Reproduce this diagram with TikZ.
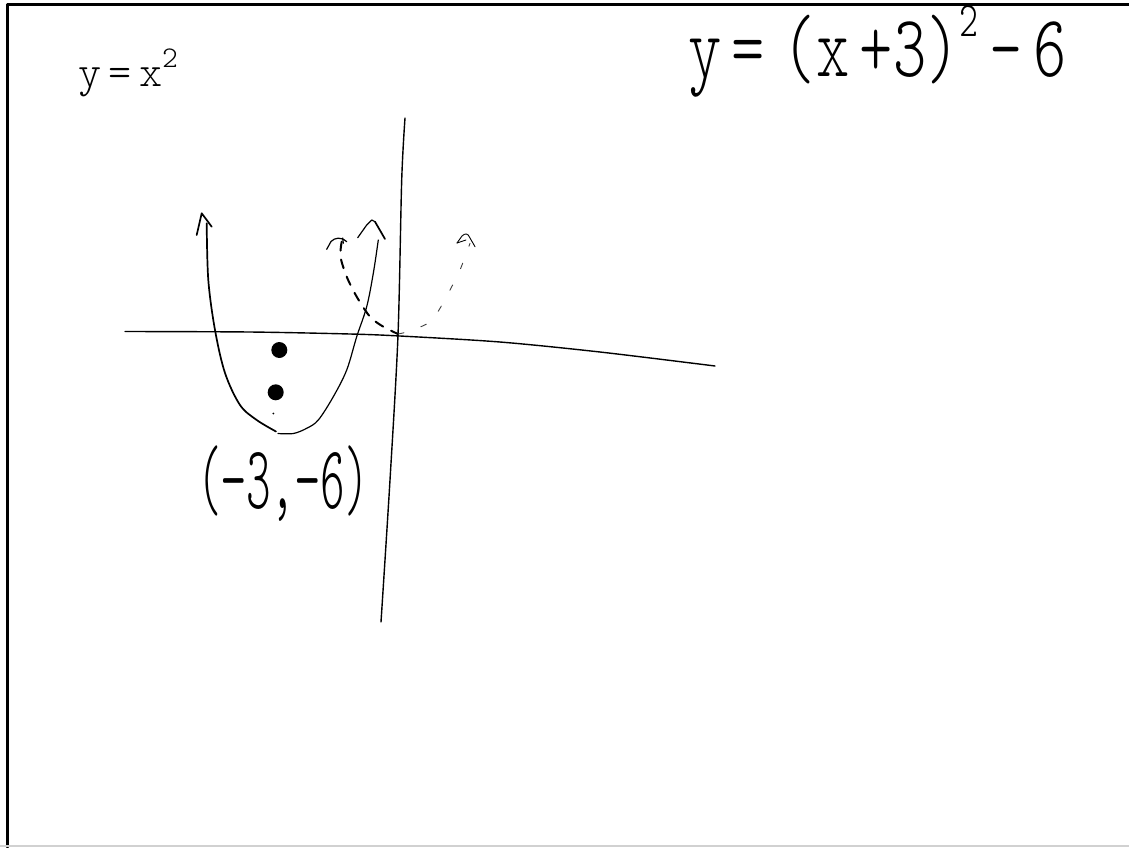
\documentclass[tikz,border=0pt]{standalone}
\usepackage{fontspec}
\newfontfamily\hand{lmmonolt10-regular.otf}
\begin{document}
\begin{tikzpicture}[x=1pt,y=-1pt,line cap=round,line join=round,
  pen/.style={line width=1.7pt,black},
  thinpen/.style={line width=1.2pt,black},
  axis/.style={line width=1.4pt,black},
  dashpen/.style={line width=2pt,black,dash pattern=on 9pt off 9pt},
  dotpen/.style={line width=0.9pt,black!75,dash pattern=on 6pt off 18pt},
  txt/.style={inner sep=0pt,font=\hand,anchor=base west}]
\useasboundingbox (0,0) rectangle (1129,847);
\fill[white] (0,0) rectangle (1129,847);
% frame
\draw[line width=3pt] (7,847) -- (7,4) -- (1129,4);
\draw[black!18,line width=1.5pt] (0,846) -- (1129,846);
% axes
\coordinate (xl) at (125,331.5);
\coordinate (xr) at (715,366);
\coordinate (yt) at (405,118);
\coordinate (yb) at (381,622);
\draw[axis] plot[smooth,tension=0.5] coordinates {(xl) (250,332) (350,334) (400,336) (500,342) (600,352) (xr)};
\draw[axis] plot[smooth,tension=0.5] coordinates {(yt) (401.7,180) (398,335) (390,480) (yb)};
% main parabola
\coordinate (lt) at (206.7,223.3);
\coordinate (rt) at (378.3,240);
\draw[pen] plot[smooth,tension=0.55] coordinates {(lt) (208.3,280) (215,330) (225,373) (240,405) (256.7,420) (276,431.5)};
\draw[thinpen] plot[smooth,tension=0.55] coordinates {(278,433.5) (293.3,433.5) (306.7,428.3) (318.3,420) (333.3,396.7) (346.7,370) (356.7,336.7) (366.7,306.7) (373.3,273.3) (rt)};
% arrowheads main
\draw[pen] (196.7,235) -- (201.7,213.3) -- (211.7,226.7);
\draw[thinpen] (357.7,237.7) -- (366.7,225) -- (371.7,220) -- (375,221.7);
\draw[pen] (375,221.7) -- (385,239);
% shifted parabola
\coordinate (dl) at (341.7,241.7);
\coordinate (dv) at (398,334);
\coordinate (dr) at (470,243.3);
\draw[dashpen] plot[smooth,tension=0.5] coordinates {(dl) (340.5,256.7) (346.7,276.7) (356.7,296.7) (370,316.7) (383.3,326.7) (dv)};
\draw[dotpen] plot[smooth,tension=0.5] coordinates {(dv) (410,331) (430,322) (440,308.3) (450,290) (460,270) (dr)};
\draw[thinpen] (326.7,249.3) -- (331,241.5) .. controls (335,237.5) and (341,236.5) .. (346.7,241.7);
\draw[thinpen] (342.7,238) -- (343.3,243.3);
\draw[line width=0.9pt] (457,243) -- (462,236) .. controls (465,233) and (468,233) .. (470,238) -- (475,246.7);
\draw[line width=0.9pt] (457,243) -- (466,240);
% dots
\fill (279.3,350) circle (8pt);
\fill (275.7,392.3) circle (8pt);
\fill (273.3,413.5) circle (1pt);
% texts
\node[txt] (eqa) at (78,86) {\fontsize{44}{46}\selectfont y\,=\,x\raisebox{0.42em}{\fontsize{30}{30}\selectfont 2}};
\node[txt] (eqb) at (688,76) {\fontsize{88}{90}\selectfont\scalebox{0.72}[1]{y\,=\;(x\,+3)\raisebox{0.45em}{\fontsize{50}{50}\selectfont 2}\,–\,6}};
\node[txt] (pt) at (197,508) {\fontsize{90}{90}\selectfont\scalebox{0.52}[1]{(−3,−6)}};
\end{tikzpicture}
\end{document}
